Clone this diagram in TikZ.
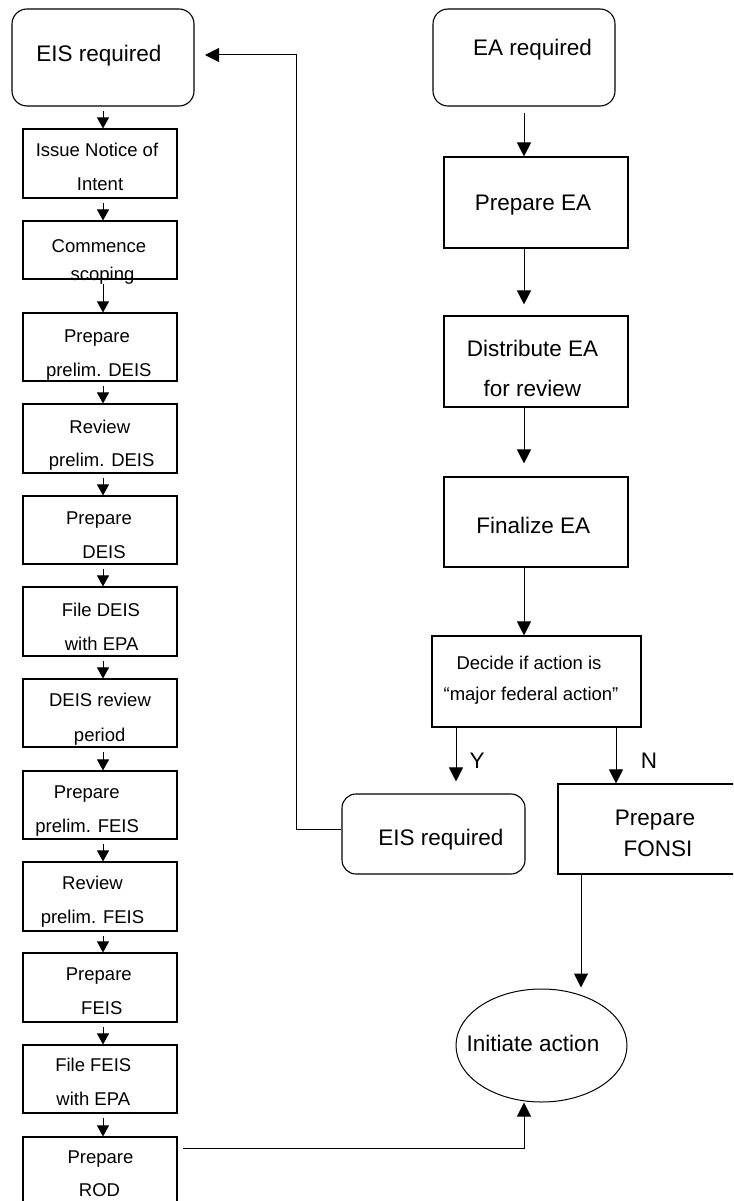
\documentclass[tikz,border=0pt]{standalone}
\usepackage{fontspec}
\setmainfont{Liberation Sans}
\usetikzlibrary{arrows.meta,shapes.geometric}

\tikzset{
  box/.style={draw, rectangle, line width=1.1pt, inner sep=0pt},
  rbox/.style={box, rounded corners=15pt},
  txs/.style={inner sep=0pt, anchor=base, font=\fontsize{18.5}{20}\selectfont},
  txl/.style={inner sep=0pt, anchor=base, font=\fontsize{22.5}{24}\selectfont},
  link/.style={line width=1pt},
  arrS/.style={link, -{Triangle[length=11pt, width=12pt]}},
  arrL/.style={link, -{Triangle[length=14pt, width=14pt]}},
}

\begin{document}
\begin{tikzpicture}[x=1pt, y=-1pt]
\clip (0,0) rectangle (733,1201);
\useasboundingbox (0,0) rectangle (733,1201);

% ---------- EIS track (left column) ----------
\node[rbox, minimum width=182pt, minimum height=97pt] (eis) at (103,57.5) {};
\node[txl] (eisT) at (99,61.7) {EIS required};

\node[box, minimum width=154pt, minimum height=69pt] (noi) at (100,163.5) {};
\node[txs] (noiA) at (97,157) {Issue Notice of};
\node[txs] (noiB) at (100,190.7) {Intent};

\node[box, minimum width=154pt, minimum height=58pt] (scope) at (100,250) {};
\node[txs] (scopeA) at (99,252) {Commence};
\node[txs] (scopeB) at (102.5,280) {scoping};

\node[box, minimum width=154pt, minimum height=68pt] (pdeis) at (100,347) {};
\node[txs] (pdeisA) at (97,342.7) {Prepare};
\node[txs] (pdeisB) at (98.8,376.7) {prelim. DEIS};

\node[box, minimum width=154pt, minimum height=69pt] (rdeis) at (100,438.5) {};
\node[txs] (rdeisA) at (99.8,433.3) {Review};
\node[txs] (rdeisB) at (101.7,466.7) {prelim. DEIS};

\node[box, minimum width=154pt, minimum height=68pt] (deis) at (100,530) {};
\node[txs] (deisA) at (99,524.3) {Prepare};
\node[txs] (deisB) at (104,558.3) {DEIS};

\node[box, minimum width=154pt, minimum height=69pt] (fdeis) at (100,621.5) {};
\node[txs] (fdeisA) at (101,616) {File DEIS};
\node[txs] (fdeisB) at (101.7,650) {with EPA};

\node[box, minimum width=154pt, minimum height=68pt] (drev) at (100,713) {};
\node[txs] (drevA) at (100,706.7) {DEIS review};
\node[txs] (drevB) at (99.7,741) {period};

\node[box, minimum width=154pt, minimum height=68pt] (pfeis) at (100,805) {};
\node[txs] (pfeisA) at (86.7,798.3) {Prepare};
\node[txs] (pfeisB) at (87.2,832.3) {prelim. FEIS};

\node[box, minimum width=154pt, minimum height=69pt] (rfeis) at (100,896.5) {};
\node[txs] (rfeisA) at (92.5,889.3) {Review};
\node[txs] (rfeisB) at (92.5,923.3) {prelim. FEIS};

\node[box, minimum width=154pt, minimum height=69pt] (feis) at (100,987.5) {};
\node[txs] (feisA) at (98.8,980) {Prepare};
\node[txs] (feisB) at (101.8,1014) {FEIS};

\node[box, minimum width=154pt, minimum height=68pt] (ffeis) at (100,1079) {};
\node[txs] (ffeisA) at (93.3,1071.7) {File FEIS};
\node[txs] (ffeisB) at (93.3,1105.7) {with EPA};

\node[box, minimum width=154pt, minimum height=73pt] (rod) at (100,1173.5) {};
\node[txs] (rodA) at (100.5,1163.3) {Prepare};
\node[txs] (rodB) at (99.5,1196) {ROD};

% left column arrows run slightly right of the box centres
\coordinate (xl) at (103,0);
\foreach \a/\b in {eis/noi, noi/scope, scope/pdeis, pdeis/rdeis, rdeis/deis,
                   deis/fdeis, fdeis/drev, drev/pfeis, pfeis/rfeis, rfeis/feis,
                   feis/ffeis, ffeis/rod}
  \draw[arrS, shorten <=4pt] (\a.south -| xl) -- (\b.north -| xl);

% ---------- EA track (right column) ----------
\node[rbox, minimum width=182pt, minimum height=97pt] (ea) at (524,57.5) {};
\node[txl] (eaT) at (532.5,56) {EA required};

\node[box, minimum width=184pt, minimum height=91pt] (pea) at (536,202.5) {};
\node[txl] (peaT) at (533,210) {Prepare EA};

\node[box, minimum width=184pt, minimum height=91pt] (dea) at (536,361.5) {};
\node[txl] (deaA) at (532.5,356) {Distribute EA};
\node[txl] (deaB) at (532.3,396.7) {for review};

\node[box, minimum width=184pt, minimum height=90pt] (fea) at (536,522) {};
\node[txl] (feaT) at (533.3,533.3) {Finalize EA};

\node[box, minimum width=209pt, minimum height=91pt] (dec) at (536.5,681.5) {};
\node[txs] (decA) at (529,669) {Decide if action is};
\node[txs] (decB) at (531,700) {“major federal action”};

\node[rbox, rounded corners=14pt, minimum width=183pt, minimum height=80pt] (eis2) at (433.5,834) {};
\node[txl] (eis2T) at (441,845) {EIS required};

\node[box, minimum width=187pt, minimum height=90pt] (fonsi) at (651.5,829) {};
\node[txl] (fonsiA) at (655,825) {Prepare};
\node[txl] (fonsiB) at (658,856.7) {FONSI};

\node[draw, ellipse, line width=1pt, inner sep=0pt,
      minimum width=171pt, minimum height=113pt] (init) at (541.5,1045.5) {};
\node[txl] (initT) at (533,1051.7) {Initiate action};

\node[txl] (yes) at (477,768.3) {Y};
\node[txl] (no) at (649,768.3) {N};

% right column arrows
\coordinate (xr) at (524,0);
\draw[arrL, shorten <=6pt] (ea.south -| xr) -- (pea.north -| xr);
\draw[arrL, shorten >=11pt] (pea.south -| xr) -- (dea.north -| xr);
\draw[arrL, shorten >=13pt] (dea.south -| xr) -- (fea.north -| xr);
\draw[arrL] (fea.south -| xr) -- (dec.north -| xr);

% decision branches
\coordinate (xy) at (456,0);
\coordinate (xn) at (616,0);
\draw[arrL, shorten >=12pt] (dec.south -| xy) -- (eis2.north -| xy);
\draw[arrL] (dec.south -| xn) -- (fonsi.north -| xn);

% FONSI and ROD lead to the action
\coordinate (xf) at (581,0);
\draw[arrL, shorten >=1pt] (fonsi.south -| xf) -- (init.north -| xf);
\coordinate (rodOut) at (183,1148);
\coordinate (xi) at (524,0);
\draw[arrL] (rodOut) -| (init.south -| xi);

% loop back from the decision to the full EIS track
\coordinate (loopY) at (0,829);
\coordinate (loopX) at (296,55);
\coordinate (loopEnd) at (205,55);
\draw[arrL] (eis2.west |- loopY) -| (loopX) -- (loopEnd);

\end{tikzpicture}
\end{document}
